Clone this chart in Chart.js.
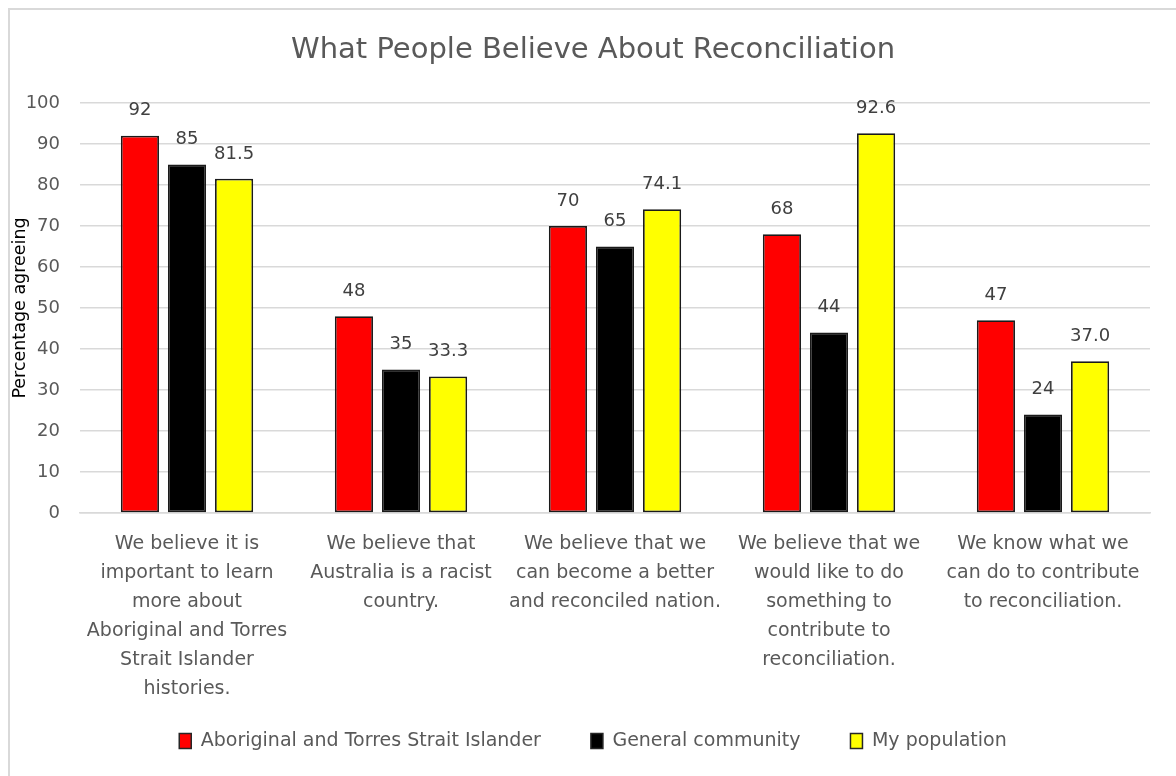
<!DOCTYPE html>
<html>
<head>
<meta charset="utf-8">
<script src="https://cdn.jsdelivr.net/npm/chart.js@4/dist/chart.umd.min.js"></script>
<style>
  html, body { margin: 0; padding: 0; background: #fff; }
  #wrap { position: absolute; left: 0; top: 0; width: 1176px; height: 776px; overflow: hidden; }
  #frame { position: absolute; left: 8px; top: 8px; width: 1176px; height: 776px;
           border-left: 2px solid #d9d9d9; border-top: 2px solid #d9d9d9; box-sizing: border-box; }
  canvas { position: absolute; left: 0; top: 0; }
</style>
</head>
<body>
<div id="wrap">
  <div id="frame"></div>
  <canvas id="c" width="1176" height="776"></canvas>
</div>
<script>
const chartTitle = "What People Believe About Reconciliation";
const yAxisTitle = "Percentage agreeing";
const categories = [
  ["We believe it is", "important to learn", "more about", "Aboriginal and Torres", "Strait Islander", "histories."],
  ["We believe that", "Australia is a racist", "country."],
  ["We believe that we", "can become a better", "and reconciled nation."],
  ["We believe that we", "would like to do", "something to", "contribute to", "reconciliation."],
  ["We know what we", "can do to contribute", "to reconciliation."]
];
const seriesNames = ["Aboriginal and Torres Strait Islander", "General community", "My population"];
const aboriginalValues = [92, 48, 70, 68, 47];
const generalValues = [85, 35, 65, 44, 24];
const populationValues = [81.5, 33.3, 74.1, 92.6, 37.0];
const seriesDecimals = [0, 0, 1];
const seriesColors = ["#ff0000", "#000000", "#ffff00"];
const yTicks = [0, 10, 20, 30, 40, 50, 60, 70, 80, 90, 100];

const FONT = "'DejaVu Sans', sans-serif";
const GRAY = "#595959";

const valueLabels = {
  id: "valueLabels",
  afterDatasetsDraw(chart) {
    const ctx = chart.ctx;
    ctx.save();
    ctx.font = "18px " + FONT;
    ctx.fillStyle = "#404040";
    ctx.textAlign = "center";
    ctx.textBaseline = "middle";
    chart.data.datasets.forEach((ds, di) => {
      const meta = chart.getDatasetMeta(di);
      meta.data.forEach((bar, i) => {
        const v = ds.data[i];
        ctx.fillText(v.toFixed(seriesDecimals[di]), bar.x, bar.y - 25);
      });
    });
    ctx.restore();
  }
};

const mkDs = (label, data, color) => ({
  label, data,
  backgroundColor: color,
  borderColor: "#1a1a1a",
  borderWidth: 1.75,
  borderSkipped: false,
  categoryPercentage: 0.66,
  barPercentage: 0.81
});

const noLabelClip = (scale) => { scale._computeLabelArea = () => undefined; };

new Chart(document.getElementById("c"), {
  type: "bar",
  data: {
    labels: categories,
    datasets: [
      mkDs(seriesNames[0], aboriginalValues, seriesColors[0]),
      mkDs(seriesNames[1], generalValues, seriesColors[1]),
      mkDs(seriesNames[2], populationValues, seriesColors[2])
    ]
  },
  options: {
    responsive: false,
    animation: false,
    devicePixelRatio: 1,
    layout: { padding: { left: 36, right: 26, top: 18, bottom: 15.5 } },
    plugins: {
      title: {
        display: true,
        text: chartTitle,
        color: GRAY,
        font: { family: FONT, size: 29, weight: "normal", lineHeight: 1.2 },
        padding: { top: 15, bottom: 35.2 }
      },
      legend: {
        position: "bottom",
        labels: {
          color: GRAY,
          font: { family: FONT, size: 19 },
          boxWidth: 12,
          boxHeight: 15,
          padding: 50,
          generateLabels(chart) {
            return chart.data.datasets.map((ds, i) => ({
              text: ds.label,
              fillStyle: ds.backgroundColor,
              strokeStyle: "#262626",
              lineWidth: 1.5,
              fontColor: GRAY,
              datasetIndex: i
            }));
          }
        }
      },
      tooltip: { enabled: false }
    },
    scales: {
      x: {
        afterFit(scale) { scale.height = 168.5; noLabelClip(scale); },
        grid: { display: false, drawTicks: false },
        border: { display: true, color: "#d9d9d9", width: 1.5 },
        ticks: {
          color: GRAY,
          font: { family: FONT, size: 19, lineHeight: 29 / 19 },
          maxRotation: 0, autoSkip: false, padding: 17
        }
      },
      y: {
        min: 0, max: 100,
        afterFit(scale) { scale.width = 44; noLabelClip(scale); },
        afterBuildTicks(axis) { axis.ticks = yTicks.map(v => ({ value: v })); },
        grid: { color: "#d9d9d9", lineWidth: 1.5, drawTicks: false },
        border: { display: false },
        ticks: {
          color: GRAY,
          font: { family: FONT, size: 18 },
          padding: 20
        },
        title: {
          display: true,
          text: yAxisTitle,
          color: "#000",
          font: { family: FONT, size: 17.5, lineHeight: 1.2 },
          padding: { top: -26.5, bottom: 0 }
        }
      }
    }
  },
  plugins: [valueLabels]
});
</script>
</body>
</html>
